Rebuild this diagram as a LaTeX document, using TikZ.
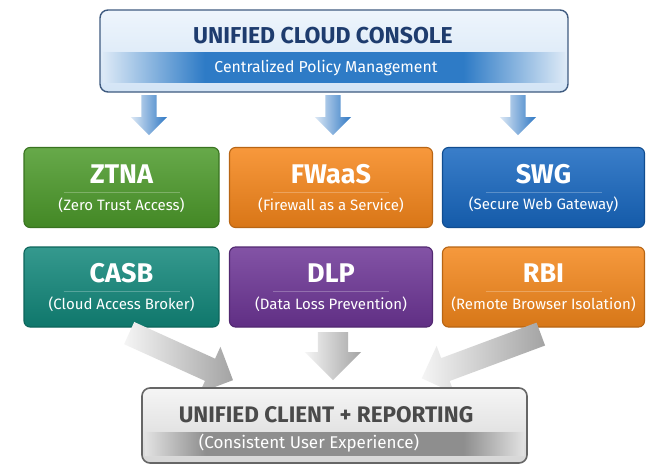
\documentclass[tikz,border=0pt]{standalone}
\usepackage{fontspec}
\setmainfont{Fira Sans}
\usetikzlibrary{shapes.arrows,calc}

% palette
\definecolor{consoletop}{HTML}{EEF5FC}
\definecolor{consolebot}{HTML}{D3E4F5}
\definecolor{consoleline}{HTML}{3F5B80}
\definecolor{consoletext}{HTML}{1E3C6E}
\definecolor{bandedge}{HTML}{DCE9F6}
\definecolor{bandmid}{HTML}{2E7BC6}
\definecolor{clienttop}{HTML}{F5F5F5}
\definecolor{clientbot}{HTML}{D6D6D6}
\definecolor{clientline}{HTML}{666666}
\definecolor{clienttext}{HTML}{4A4A4A}
\definecolor{gbandedge}{HTML}{E2E2E2}
\definecolor{gbandmid}{HTML}{8E8E8E}
\definecolor{ztnac}{HTML}{4C9A2A}
\definecolor{fwaasc}{HTML}{F6861A}
\definecolor{swgc}{HTML}{1767C0}
\definecolor{casbc}{HTML}{11877A}
\definecolor{dlpc}{HTML}{6D3596}
\definecolor{rbic}{HTML}{F4871B}
\definecolor{arrowblue}{HTML}{2F78C4}
\definecolor{arrowpale}{HTML}{DCE8F5}

\pgfdeclarehorizontalshading{bandblue}{100bp}{color(0bp)=(bandedge); color(25bp)=(bandedge); color(36bp)=(bandmid); color(64bp)=(bandmid); color(75bp)=(bandedge); color(100bp)=(bandedge)}
\pgfdeclarehorizontalshading{bandgrey}{100bp}{color(0bp)=(gbandedge); color(25bp)=(gbandedge); color(33bp)=(gbandmid); color(67bp)=(gbandmid); color(75bp)=(gbandedge); color(100bp)=(gbandedge)}

\tikzset{
  tile/.style={draw=#1!75!black, line width=1.1pt, rounded corners=6pt,
    top color=#1!85!white, bottom color=#1!88!black,
    minimum height=80pt, inner sep=0pt},
  tiletitle/.style={text=white, font=\bfseries\fontsize{27}{27}\selectfont, inner sep=0pt},
  tilesub/.style={text=white, font=\fontsize{15}{16}\selectfont, inner sep=0pt},
  tilerule/.style={white, opacity=0.25, line width=0.6pt},
  bluearrow/.style={single arrow, draw=none, inner xsep=0pt, inner ysep=7.5pt,
    single arrow head extend=10.5pt, single arrow head indent=0pt,
    minimum height=40pt, left color=arrowpale, right color=arrowblue},
  greyarrow/.style={single arrow, draw=none, inner xsep=0pt, inner ysep=#1,
    single arrow head extend=13pt, single arrow head indent=0pt,
    left color=gray!8, right color=gray!72}
}

\begin{document}
\begin{tikzpicture}[x=1pt,y=-1pt]
\useasboundingbox (0,0) rectangle (653,466);
\fill[white] (0,0) rectangle (653,466);

% ---- console ----
\node[draw=consoleline, line width=1.4pt, rounded corners=8pt,
      top color=consoletop, bottom color=consolebot,
      minimum width=468pt, minimum height=82pt, inner sep=0pt] (console) at (334,51) {};
\shade[shading=bandblue] (103,52) rectangle (565,82);
\node[text=consoletext, font=\bfseries\fontsize{23}{23}\selectfont, inner sep=0pt] (consoletitle) at (323,36) {UNIFIED CLOUD CONSOLE};
\node[text=white, font=\fontsize{15.8}{16}\selectfont, inner sep=0pt] (consolesub) at (326,68) {Centralized Policy Management};

% ---- distribution arrows ----
\node[bluearrow, rotate=-90, anchor=tail] (down1) at (149,95) {};
\node[bluearrow, rotate=-90, anchor=tail] (down2) at (333,95) {};
\node[bluearrow, rotate=-90, anchor=tail] (down3) at (518,95) {};

% ---- service tiles ----
\node[tile=ztnac,  minimum width=195pt] (ztna)  at (121.5,187.5) {};
\node[tile=fwaasc, minimum width=203pt] (fwaas) at (331,187.5) {};
\node[tile=swgc,   minimum width=202pt] (swg)   at (543.5,187.5) {};
\node[tile=casbc,  minimum width=195pt] (casb)  at (121.5,287) {};
\node[tile=dlpc,   minimum width=203pt] (dlp)   at (331,287) {};
\node[tile=rbic,   minimum width=202pt] (rbi)   at (543.5,287) {};

\foreach \t/\a/\b in {ztna/ZTNA/(Zero Trust Access),
                      fwaas/FWaaS/(Firewall as a Service),
                      swg/SWG/(Secure Web Gateway),
                      casb/CASB/(Cloud Access Broker),
                      dlp/DLP/(Data Loss Prevention),
                      rbi/RBI/(Remote Browser Isolation)}{
  \node[tiletitle] (\t-title) at ($(\t.north)+(0,27)$) {\a};
  \node[tilesub]   (\t-sub)   at ($(\t.north)+(0,58)$) {\b};
  \draw[tilerule] ($(\t.north)+(-58,45)$) -- ($(\t.north)+(58,45)$);
}

% ---- convergence arrows ----
\node[greyarrow=12pt, rotate=-24.4, anchor=tail, minimum height=114pt] (merge1) at (129,333) {};
\node[greyarrow=15pt, rotate=-90, anchor=tail, minimum height=48pt] (merge2) at (333,332) {};
\node[greyarrow=12pt, rotate=200.4, anchor=tail, minimum height=127pt] (merge3) at (541,334) {};

% ---- client ----
\node[draw=clientline, line width=1.6pt, rounded corners=8pt,
      top color=clienttop, bottom color=clientbot,
      minimum width=385pt, minimum height=75pt, inner sep=0pt] (client) at (334.5,425.5) {};
\shade[shading=bandgrey] (145,432) rectangle (524,455);
\node[text=clienttext, font=\bfseries\fontsize{22.5}{23}\selectfont, inner sep=0pt] (clienttitle) at (326,415) {UNIFIED CLIENT + REPORTING};
\node[text=white, font=\fontsize{17}{17}\selectfont, inner sep=0pt] (clientsub) at (309,443) {(Consistent User Experience)};
\end{tikzpicture}
\end{document}
